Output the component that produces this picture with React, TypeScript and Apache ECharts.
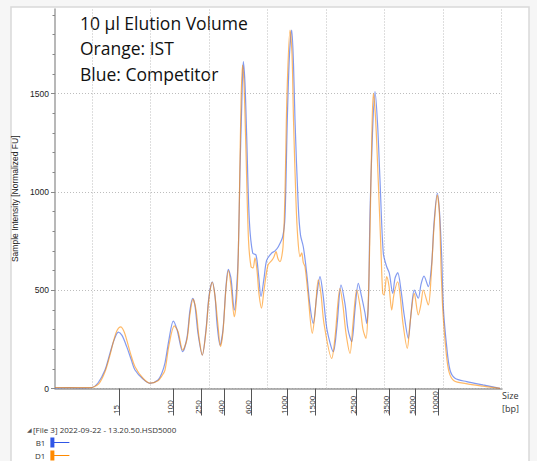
import React, { useEffect, useRef } from "react";
import * as echarts from "echarts";

// migration position along the x axis (arbitrary units) and intensity (normalized FU)
const positionB = [0, 15, 30, 37, 43, 50, 55, 59, 63.3, 67, 71.7, 76, 80, 88, 95, 103, 107, 110, 114, 118.3, 122, 127.7, 132, 135, 137.7, 140, 143, 147.3, 151, 154, 157.3, 160, 162, 165, 168, 171, 173.3, 176, 179.3, 181.5, 183.3, 185, 186.8, 188.3, 190, 191.7, 194.3, 197.7, 201, 203.5, 206, 209, 211.7, 216.7, 220, 223.3, 227.7, 230, 232.3, 234.5, 236.7, 238.5, 240, 243.3, 245.5, 248.3, 251.7, 255, 258.3, 261.5, 265, 268, 272, 278.3, 282, 286, 290, 293, 296.7, 300, 303.3, 306.5, 310, 311.7, 313.5, 315, 317.5, 320, 322.5, 325, 328.3, 331.7, 334.3, 337.7, 340, 342.7, 346, 349, 353.3, 356, 359.3, 363.3, 366, 369, 373.3, 376.7, 379, 382.3, 384.5, 386.7, 388.3, 391.7, 395, 400, 411.7, 428, 445];
const intensityB = [3, 4, 3, 5, 28, 94, 180, 245, 287, 270, 213, 150, 94, 48, 26, 43, 80, 130, 250, 343, 300, 187, 260, 400, 459, 420, 280, 170, 300, 470, 543, 470, 330, 221, 300, 520, 606, 560, 399, 500, 688, 1111, 1450, 1662, 1550, 1281, 857, 688, 679, 580, 467, 560, 653, 689, 700, 721, 772, 874, 1366, 1700, 1823, 1650, 1366, 925, 780, 721, 587, 420, 331, 460, 569, 480, 300, 187, 320, 526, 430, 300, 238, 400, 535, 470, 384, 331, 450, 892, 1300, 1510, 1350, 1060, 688, 619, 587, 484, 560, 589, 500, 380, 255, 380, 501, 459, 530, 572, 518, 637, 840, 993, 900, 670, 416, 213, 94, 52, 35, 18, 1];

const positionD = [0, 20, 35, 38, 44, 50, 55, 59, 62, 65.7, 69, 71.7, 76, 80, 88, 95, 103, 107, 110, 114, 119.3, 123, 127.7, 132, 135, 138, 141, 144, 147.3, 151, 154, 157.3, 160, 163, 165.5, 168, 171, 173.5, 176, 179.3, 181.5, 183, 184.5, 186, 187.5, 189, 191, 193.5, 196, 198, 200, 202, 204, 206.5, 209, 213, 217, 219, 221, 223, 225, 228, 230, 232, 235, 237, 238.5, 241, 242.7, 245, 246.7, 248.3, 250, 253, 257.3, 260, 263.3, 266, 269, 276.7, 280, 285, 288, 291, 295, 298, 301.7, 305, 308, 311, 313, 315, 316.5, 318.3, 320.5, 323.3, 326, 327.7, 329, 331.7, 334, 336.7, 339, 342.7, 345, 348, 352.3, 355, 359.3, 363.3, 366, 368.3, 373.3, 376, 379, 382.3, 384.5, 386, 388, 391, 394, 399, 411, 428, 445];
const intensityD = [5, 4, 4, 6, 25, 85, 170, 250, 295, 313, 290, 247, 170, 111, 52, 27, 40, 65, 94, 220, 318, 290, 195, 250, 380, 455, 400, 260, 170, 290, 460, 540, 470, 320, 213, 290, 510, 600, 520, 365, 450, 620, 1000, 1450, 1645, 1550, 1200, 755, 620, 613, 664, 600, 480, 409, 500, 628, 653, 670, 696, 660, 645, 720, 1000, 1500, 1823, 1700, 1366, 950, 772, 670, 690, 640, 619, 480, 281, 380, 552, 480, 330, 153, 260, 509, 420, 280, 179, 330, 501, 420, 300, 255, 400, 800, 1200, 1501, 1380, 1050, 700, 484, 476, 569, 520, 399, 480, 543, 480, 330, 204, 330, 484, 374, 430, 501, 425, 560, 820, 984, 880, 620, 380, 190, 85, 40, 25, 12, 1];

// ladder (size standard) positions and their sizes in bp
const ladderPos = [64.3, 118.3, 146.7, 169, 196.5, 232.3, 260, 301.7, 334.3, 360.7, 383.3];
const ladderBp = ["15", "100", "250", "400", "600", "1000", "1500", "2500", "3500", "5000", "10000"];

// vertical dotted grid (migration grid) positions
const gridPos = [37, 95.5, 154, 212.5, 271, 329.5, 388, 446.5];

const yMajor = [0, 500, 1000, 1500];
const yMinor = [100, 200, 300, 400, 600, 700, 800, 900, 1100, 1200, 1300, 1400, 1600, 1700, 1800, 1900];

const titleLines = ["10 µl Elution Volume", "Orange: IST", "Blue: Competitor"];

const BLUE = "#2f56e6";
const ORANGE = "#ff8a00";
const legendIcon = "path://M0,0h4v10h-4zM4,4.5h15v1h-15z";

export default function App() {
  const ref = useRef<HTMLDivElement>(null);
  useEffect(() => {
    if (!ref.current) return;
    const chart = echarts.init(ref.current, undefined, { renderer: "svg" });
    const axisFont = "Liberation Sans, Arial, sans-serif";
    const uiFont = "Open Sans, Noto Sans, sans-serif";
    chart.setOption({
      animation: false,
      backgroundColor: "#f6f6f6",
      grid: { left: 55, right: 35, top: 9, bottom: 72.5, containLabel: false },
      xAxis: [
        {
          type: "value",
          min: 0,
          max: 447,
          axisLine: { show: true, lineStyle: { color: "#9a9a9a", width: 1.5 } },
          axisTick: { show: false },
          axisLabel: { show: false },
          splitLine: { show: false },
          name: "Size\n[bp]",
          nameLocation: "end",
          nameGap: 0,
          nameTextStyle: {
            align: "left",
            verticalAlign: "top",
            fontSize: 9,
            lineHeight: 13,
            color: "#333",
            fontFamily: uiFont,
          },
        },
        {
          type: "value",
          min: 0,
          max: 447,
          position: "bottom",
          offset: 3,
          axisLine: { show: false },
          axisTick: {
            show: true,
            customValues: ladderPos,
            length: 27,
            lineStyle: { color: "#555", width: 1 },
          },
          axisLabel: {
            show: true,
            customValues: ladderPos,
            rotate: 90,
            margin: 22.5,
            align: "left",
            verticalAlign: "bottom",
            fontSize: 8,
            color: "#222",
            fontFamily: uiFont,
            formatter: (v: number) => {
              let best = 0;
              for (let i = 1; i < ladderPos.length; i++) {
                if (Math.abs(ladderPos[i] - v) < Math.abs(ladderPos[best] - v)) best = i;
              }
              return ladderBp[best];
            },
          },
          splitLine: { show: false },
        },
      ],
      yAxis: [
        {
          type: "value",
          min: 0,
          max: 1930,
          interval: 500,
          axisLine: { show: true, lineStyle: { color: "#a0a0a0", width: 1.5 } },
          axisTick: { show: true, customValues: yMajor, length: 4, lineStyle: { color: "#888" } },
          axisLabel: {
            show: true,
            customValues: yMajor,
            margin: 6,
            fontSize: 8.5,
            color: "#222",
            fontFamily: axisFont,
            formatter: (v: number) => String(v),
          },
          splitLine: {
            show: true,
            lineStyle: { type: [1, 2], color: "#bdbdbd", width: 1 },
          },
          name: "Sample Intensity [Normalized FU]",
          nameLocation: "middle",
          nameGap: 33,
          nameTextStyle: { fontSize: 8.5, color: "#222", fontFamily: axisFont },
        },
        {
          type: "value",
          min: 0,
          max: 1930,
          position: "left",
          axisLine: { show: false },
          axisTick: { show: true, customValues: yMinor, length: 2.5, lineStyle: { color: "#888" } },
          axisLabel: { show: false },
          splitLine: { show: false },
        },
      ],
      legend: {
        orient: "vertical",
        left: 35,
        top: 437.5,
        align: "right",
        itemGap: 3,
        itemWidth: 19,
        itemHeight: 10,
        padding: 0,
        textStyle: { fontSize: 8, color: "#333", fontFamily: uiFont },
        data: [
          { name: "B1", icon: legendIcon, itemStyle: { color: BLUE, opacity: 1 } },
          { name: "D1", icon: legendIcon, itemStyle: { color: ORANGE, opacity: 1 } },
        ],
      },
      graphic: [
        {
          type: "rect",
          z: -10,
          silent: true,
          shape: { x: 11, y: 7, width: 518, height: 470 },
          style: { fill: "#ffffff", stroke: "#d9d9d9", lineWidth: 1.5 },
        },
        ...titleLines.map((t, i) => ({
          type: "text",
          left: 80,
          top: [14, 39, 65][i],
          style: { text: t, fontSize: 17.5, fontFamily: "Open Sans, sans-serif", fill: "#111" },
        })),
        {
          type: "text",
          left: 27,
          top: 426,
          style: { text: "◢", fontSize: 6, fill: "#555", fontFamily: "DejaVu Sans" },
        },
        {
          type: "text",
          left: 33,
          top: 425,
          style: {
            text: "[File 3] 2022-09-22 - 13.20.50.HSD5000",
            fontSize: 8,
            fill: "#333",
            fontFamily: uiFont,
          },
        },
      ],
      series: [
        {
          type: "line",
          name: "grid",
          data: [],
          z: 1,
          silent: true,
          markLine: {
            silent: true,
            z: 1,
            symbol: ["none", "none"],
            label: { show: false },
            lineStyle: { type: [1, 2], color: "#bdbdbd", width: 1 },
            data: gridPos.map((x) => ({ xAxis: x })),
          },
        },
        {
          type: "line",
          name: "B1",
          data: positionB.map((x, i) => [x, intensityB[i]]),
          symbol: "none",
          smooth: 0.3,
          z: 3,
          itemStyle: { color: BLUE },
          lineStyle: { color: BLUE, width: 1.2, opacity: 0.6 },
        },
        {
          type: "line",
          name: "D1",
          data: positionD.map((x, i) => [x, intensityD[i]]),
          symbol: "none",
          smooth: 0.3,
          z: 4,
          itemStyle: { color: ORANGE },
          lineStyle: { color: ORANGE, width: 1.2, opacity: 0.6 },
        },
      ],
    });
    return () => chart.dispose();
  }, []);
  return (
    <div
      ref={ref}
      style={{ position: "fixed", left: 0, top: 0, width: 537, height: 461 }}
    />
  );
}
